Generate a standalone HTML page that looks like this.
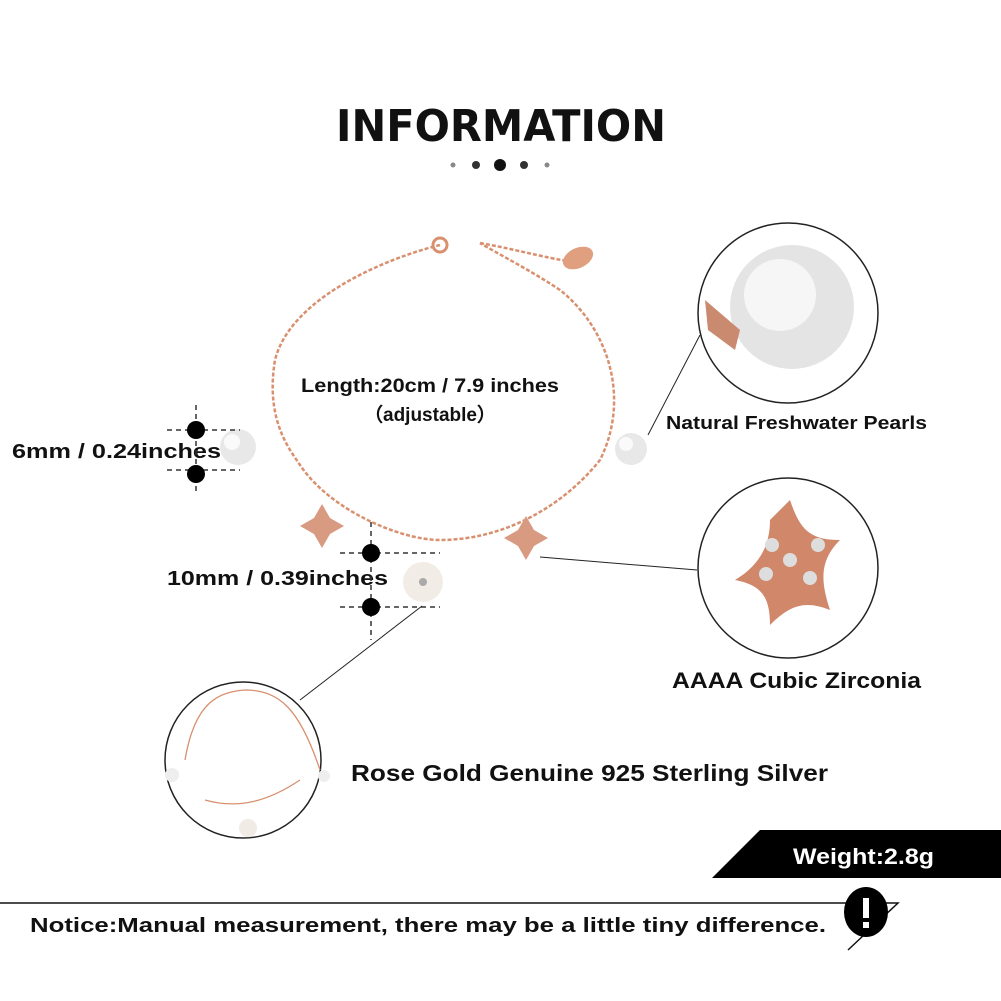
<!DOCTYPE html>
<html><head><style>
body{margin:0;background:#fff;}
svg{display:block;}
text{font-family:"Liberation Sans",sans-serif;font-weight:bold;fill:#111;}
</style></head><body>
<svg width="1001" height="1001" viewBox="0 0 1001 1001">
<text x="336" y="141" font-size="44" textLength="330" lengthAdjust="spacingAndGlyphs" style="font-family:'DejaVu Sans',sans-serif;font-weight:900">INFORMATION</text>
<circle cx="453" cy="165" r="2.5" fill="#888"/><circle cx="476" cy="165" r="4" fill="#333"/><circle cx="500" cy="165" r="6" fill="#111"/><circle cx="524" cy="165" r="4" fill="#333"/><circle cx="547" cy="165" r="2.5" fill="#888"/>
<g fill="none" stroke="#d8906f" stroke-width="2.5" stroke-dasharray="4 2">
<path d="M440,245 C380,260 290,300 275,360 C265,420 290,450 300,465 C330,510 400,540 440,540 C500,540 560,510 600,460 C630,400 610,330 560,290 C530,270 500,255 480,243"/>
<path d="M480,243 C520,250 560,262 580,262"/>
</g>
<circle cx="440" cy="245" r="7" fill="none" stroke="#d8906f" stroke-width="3"/>
<ellipse cx="578" cy="258" rx="16" ry="10" fill="#e0a080" transform="rotate(-25 578 258)"/>
<circle cx="238" cy="447" r="18" fill="#e8e8e8"/><circle cx="232" cy="442" r="8" fill="#fafafa"/>
<circle cx="631" cy="449" r="16" fill="#e8e8e8"/><circle cx="626" cy="444" r="7" fill="#fafafa"/>
<g fill="#d89a80"><path d="M322,516 l8,14 14,8 -14,8 -8,14 -8,-14 -14,-8 14,-8z" transform="translate(0,-12)"/>
<path d="M526,532 l8,14 14,8 -14,8 -8,14 -8,-14 -14,-8 14,-8z" transform="translate(0,-16)"/></g>
<circle cx="423" cy="582" r="20" fill="#f2ece6"/><circle cx="423" cy="582" r="4" fill="#aaa"/>
<text x="301" y="392" font-size="19" textLength="258" lengthAdjust="spacingAndGlyphs">Length:20cm / 7.9 inches</text>
<text x="430" y="421" text-anchor="middle" font-size="19">（adjustable）</text>
<text x="12" y="458" font-size="20" textLength="209" lengthAdjust="spacingAndGlyphs">6mm / 0.24inches</text>
<text x="167" y="585" font-size="20" textLength="221" lengthAdjust="spacingAndGlyphs">10mm / 0.39inches</text>
<g stroke="#333" stroke-width="1.5" stroke-dasharray="5 4" fill="none">
<line x1="196" y1="405" x2="196" y2="492"/><line x1="167" y1="430" x2="240" y2="430"/><line x1="167" y1="470" x2="240" y2="470"/>
<line x1="371" y1="522" x2="371" y2="640"/><line x1="340" y1="553" x2="440" y2="553"/><line x1="340" y1="607" x2="440" y2="607"/>
</g>
<g fill="#000"><circle cx="196" cy="430" r="9"/><circle cx="196" cy="474" r="9"/><circle cx="371" cy="553" r="9"/><circle cx="371" cy="607" r="9"/></g>
<g stroke="#222" stroke-width="1" fill="none">
<line x1="648" y1="435" x2="700" y2="335"/>
<line x1="540" y1="557" x2="697" y2="570"/>
<line x1="422" y1="606" x2="300" y2="700"/>
</g>
<circle cx="788" cy="313" r="90" fill="#fff" stroke="#222" stroke-width="1.5"/>
<circle cx="792" cy="307" r="62" fill="#e4e4e4"/><circle cx="780" cy="295" r="36" fill="#f6f6f6"/>
<path d="M705,300 L740,330 L735,350 L708,330Z" fill="#c98a70"/>
<circle cx="788" cy="568" r="90" fill="#fff" stroke="#222" stroke-width="1.5"/>
<path d="M790,500 C800,530 810,540 840,540 C820,560 820,580 830,610 C805,600 790,605 770,625 C770,595 760,585 735,580 C760,565 770,545 770,520Z" fill="#d0876a"/>
<g fill="#ddd"><circle cx="790" cy="560" r="7"/><circle cx="772" cy="545" r="7"/><circle cx="818" cy="545" r="7"/><circle cx="766" cy="574" r="7"/><circle cx="810" cy="578" r="7"/></g>
<circle cx="243" cy="760" r="78" fill="#fff" stroke="#222" stroke-width="1.5"/>
<path d="M185,760 C195,700 220,692 245,690 C280,690 300,710 320,770 M205,800 C240,810 270,800 300,780" fill="none" stroke="#d8906f" stroke-width="1.3"/>
<circle cx="172" cy="775" r="7" fill="#eee"/><circle cx="324" cy="776" r="6" fill="#eee"/><circle cx="248" cy="828" r="9" fill="#f0ebe5"/>
<text x="666" y="429" font-size="18" textLength="261" lengthAdjust="spacingAndGlyphs">Natural Freshwater Pearls</text>
<text x="672" y="688" font-size="22" textLength="249" lengthAdjust="spacingAndGlyphs">AAAA Cubic Zirconia</text>
<text x="351" y="781" font-size="23" textLength="477" lengthAdjust="spacingAndGlyphs">Rose Gold Genuine 925 Sterling Silver</text>
<polygon points="712,878 760,830 1001,830 1001,878" fill="#000"/>
<text x="793" y="864" font-size="22" textLength="141" lengthAdjust="spacingAndGlyphs" style="fill:#fff">Weight:2.8g</text>
<polyline points="0,903 898,903 848,950" fill="none" stroke="#111" stroke-width="1.5"/>
<ellipse cx="866" cy="912" rx="22" ry="25" fill="#000"/>
<rect x="863" y="898" width="6" height="20" fill="#fff"/><rect x="863" y="922" width="6" height="6" fill="#fff"/>
<text x="30" y="932" font-size="20" textLength="796" lengthAdjust="spacingAndGlyphs">Notice:Manual measurement, there may be a little tiny difference.</text>
</svg>
</body></html>
